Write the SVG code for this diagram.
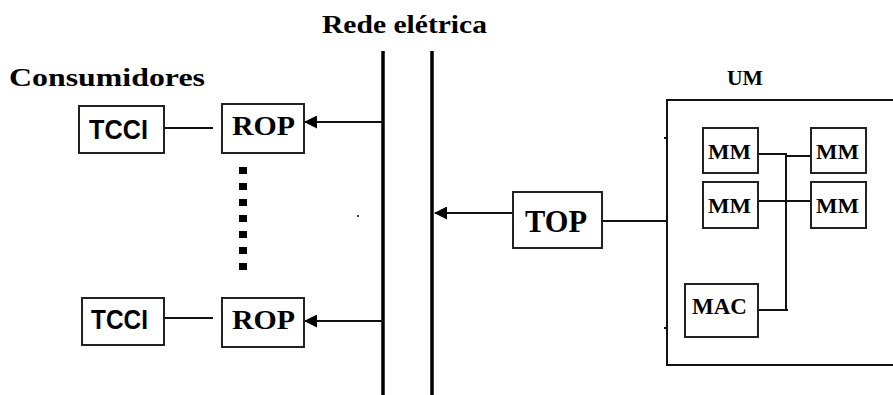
<svg xmlns="http://www.w3.org/2000/svg" width="893" height="395" viewBox="0 0 893 395">
<defs>
<marker id="ah" markerWidth="13" markerHeight="13" refX="12" refY="6.5" orient="auto" markerUnits="userSpaceOnUse">
<path d="M0,0 L13,6.5 L0,13 Z" fill="#000"/>
</marker>
<style>
.box{fill:#fff;stroke:#222;stroke-width:2}
.ln{stroke:#111;stroke-width:2;fill:none}
.bus{stroke:#000;stroke-width:3.5;fill:none}
.ser{font-family:"Liberation Serif","DejaVu Serif",serif;font-weight:bold;fill:#000}
.san{font-family:"Liberation Sans","DejaVu Sans",sans-serif;font-weight:bold;fill:#000}
</style>
</defs>
<rect width="893" height="395" fill="#fff"/>
<text class="ser" x="322" y="33" font-size="25" textLength="165" lengthAdjust="spacingAndGlyphs">Rede elétrica</text>
<text class="ser" x="9" y="86" font-size="25" textLength="196" lengthAdjust="spacingAndGlyphs">Consumidores</text>
<text class="ser" x="727" y="85" font-size="21" textLength="36" lengthAdjust="spacingAndGlyphs">UM</text>
<g id="connectors">
<line class="bus" x1="383" y1="51" x2="383" y2="395"/>
<line class="bus" x1="432" y1="51" x2="432" y2="395"/>
<line class="ln" x1="383" y1="122" x2="305" y2="122" marker-end="url(#ah)"/>
<line class="ln" x1="383" y1="321" x2="305" y2="321" marker-end="url(#ah)"/>
<line class="ln" x1="513" y1="213" x2="435" y2="213" marker-end="url(#ah)"/>
<line class="ln" x1="164" y1="128" x2="213" y2="128"/>
<line class="ln" x1="164" y1="318" x2="213" y2="318"/>
<line stroke="#000" stroke-width="8" stroke-dasharray="7 9" x1="243" y1="167" x2="243" y2="270"/>
<line class="ln" x1="602" y1="221" x2="667" y2="221"/>
<line class="ln" x1="758" y1="154" x2="786" y2="154"/>
<line class="ln" x1="786" y1="156" x2="811" y2="156"/>
<line class="ln" x1="758" y1="201" x2="811" y2="201"/>
<line class="ln" x1="786" y1="153" x2="786" y2="311"/>
<line class="ln" x1="758" y1="310" x2="788" y2="310"/>
</g>
<circle cx="358" cy="216" r="1" fill="#000"/>
<g id="UM">
<path class="ln" d="M894,100 H667 V365 H894"/>
<line class="ln" x1="664" y1="138" x2="667" y2="138"/>
<line class="ln" x1="664" y1="328" x2="667" y2="328"/>
</g>
<g id="tcci1"><rect class="box" x="79" y="106" width="85" height="47"/><text class="san" x="89" y="139" font-size="27" textLength="59" lengthAdjust="spacingAndGlyphs">TCCI</text></g>
<g id="rop1"><rect class="box" x="222" y="104" width="82" height="49"/><text class="ser" x="232" y="135" font-size="27" textLength="63" lengthAdjust="spacingAndGlyphs">ROP</text></g>
<g id="tcci2"><rect class="box" x="82" y="298" width="82" height="47"/><text class="san" x="91" y="329" font-size="27" textLength="57" lengthAdjust="spacingAndGlyphs">TCCI</text></g>
<g id="rop2"><rect class="box" x="222" y="298" width="82" height="49"/><text class="ser" x="232" y="329" font-size="27" textLength="63" lengthAdjust="spacingAndGlyphs">ROP</text></g>
<g id="top"><rect class="box" x="513" y="192" width="89" height="56"/><text class="ser" x="525" y="232" font-size="31" textLength="62" lengthAdjust="spacingAndGlyphs">TOP</text></g>
<g id="mm1"><rect class="box" x="703" y="128" width="55" height="45"/><text class="ser" x="708" y="159" font-size="22" textLength="43" lengthAdjust="spacingAndGlyphs">MM</text></g>
<g id="mm2"><rect class="box" x="811" y="128" width="55" height="45"/><text class="ser" x="816" y="159" font-size="22" textLength="43" lengthAdjust="spacingAndGlyphs">MM</text></g>
<g id="mm3"><rect class="box" x="703" y="182" width="55" height="46"/><text class="ser" x="708" y="213" font-size="22" textLength="43" lengthAdjust="spacingAndGlyphs">MM</text></g>
<g id="mm4"><rect class="box" x="811" y="182" width="55" height="46"/><text class="ser" x="816" y="213" font-size="22" textLength="43" lengthAdjust="spacingAndGlyphs">MM</text></g>
<g id="mac"><rect class="box" x="685" y="284" width="73" height="53"/><text class="ser" x="692" y="314" font-size="24" textLength="55" lengthAdjust="spacingAndGlyphs">MAC</text></g>
</svg>
